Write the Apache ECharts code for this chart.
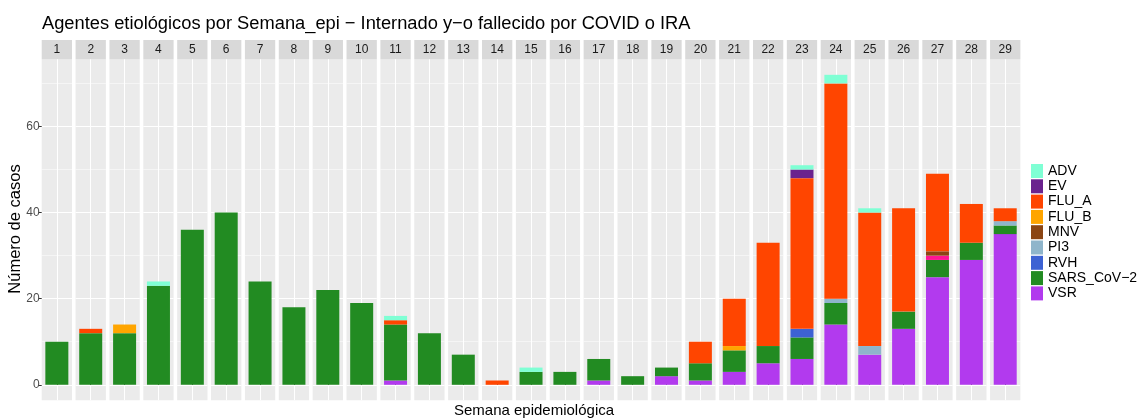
<!DOCTYPE html>
<html>
<head>
<meta charset="utf-8">
<script src="https://cdn.jsdelivr.net/npm/echarts@6/dist/echarts.min.js"></script>
<style>
  html, body { margin: 0; padding: 0; background: #fff; }
  #main { width: 1141px; height: 418px; }
</style>
</head>
<body>
<div id="main"></div>
<script>
"use strict";

// semanas epidemiológicas (una faceta por semana)
var weeks = [1, 2, 3, 4, 5, 6, 7, 8, 9, 10, 11, 12, 13, 14, 15, 16, 17, 18, 19, 20, 21, 22, 23, 24, 25, 26, 27, 28, 29];

// casos por agente y semana
var ADV   = [0, 0, 0, 1, 0, 0, 0, 0, 0, 0, 1, 0, 0, 0, 1, 0, 0, 0, 0, 0, 0, 0, 1, 2, 1, 0, 0, 0, 0];
var EV    = [0, 0, 0, 0, 0, 0, 0, 0, 0, 0, 0, 0, 0, 0, 0, 0, 0, 0, 0, 0, 0, 0, 2, 0, 0, 0, 0, 0, 0];
var FLU_A = [0, 1, 0, 0, 0, 0, 0, 0, 0, 0, 1, 0, 0, 1, 0, 0, 0, 0, 0, 5, 11, 24, 35, 50, 31, 24, 18, 9, 3];
var FLU_B = [0, 0, 2, 0, 0, 0, 0, 0, 0, 0, 0, 0, 0, 0, 0, 0, 0, 0, 0, 0, 1, 0, 0, 0, 0, 0, 0, 0, 0];
var MNV   = [0, 0, 0, 0, 0, 0, 0, 0, 0, 0, 0, 0, 0, 0, 0, 0, 0, 0, 0, 0, 0, 0, 0, 0, 0, 0, 1, 0, 0];
var OTROS = [0, 0, 0, 0, 0, 0, 0, 0, 0, 0, 0, 0, 0, 0, 0, 0, 0, 0, 0, 0, 0, 0, 0, 0, 0, 0, 1, 0, 0];
var PI3   = [0, 0, 0, 0, 0, 0, 0, 0, 0, 0, 0, 0, 0, 0, 0, 0, 0, 0, 0, 0, 0, 0, 0, 1, 2, 0, 0, 0, 1];
var RVH   = [0, 0, 0, 0, 0, 0, 0, 0, 0, 0, 0, 0, 0, 0, 0, 0, 0, 0, 0, 0, 0, 0, 2, 0, 0, 0, 0, 0, 0];
var SARS  = [10, 12, 12, 23, 36, 40, 24, 18, 22, 19, 13, 12, 7, 0, 3, 3, 5, 2, 2, 4, 5, 4, 5, 5, 0, 4, 4, 4, 2];
var VSR   = [0, 0, 0, 0, 0, 0, 0, 0, 0, 0, 1, 0, 0, 0, 0, 0, 1, 0, 2, 1, 3, 5, 6, 14, 7, 13, 25, 29, 35];

var yTicks = [0, 20, 40, 60];
var yMinorTicks = [10, 30, 50, 70];

var legendNames = ['ADV', 'EV', 'FLU_A', 'FLU_B', 'MNV', 'PI3', 'RVH', 'SARS_CoV\u22122', 'VSR'];

var colors = {
    'ADV': '#7FFFD4',
    'EV': '#6A238E',
    'FLU_A': '#FF4500',
    'FLU_B': '#FFA500',
    'MNV': '#8B4513',
    'Otros': '#FF1493',
    'PI3': '#8FB5CB',
    'RVH': '#3D62D3',
    'SARS_CoV\u22122': '#228B22',
    'VSR': '#B23AEE'
};

// orden de apilado, de abajo hacia arriba
var stackOrder = [
    ['VSR', VSR],
    ['SARS_CoV\u22122', SARS],
    ['RVH', RVH],
    ['PI3', PI3],
    ['Otros', OTROS],
    ['MNV', MNV],
    ['FLU_B', FLU_B],
    ['FLU_A', FLU_A],
    ['EV', EV],
    ['ADV', ADV]
];

// geometría de las facetas
var panelLeft = 41.7, panelPitch = 33.87, panelWidth = 30.3;
var panelTop = 59.3, panelHeight = 341, stripTop = 40;
var yMin = -3.6, yMax = 75.6;

var grids = [], xAxes = [], yAxes = [], series = [], graphics = [];

weeks.forEach(function (w, i) {
    var left = panelLeft + i * panelPitch;
    grids.push({
        left: left, top: panelTop, width: panelWidth, height: panelHeight,
        show: true, backgroundColor: '#EBEBEB', borderWidth: 0,
        containLabel: false, outerBoundsMode: 'none'
    });

    // eje de categoría para las barras
    xAxes.push({
        type: 'category', gridIndex: i, data: [String(w)],
        axisLine: { show: false }, axisTick: { show: false },
        axisLabel: { show: false }, splitLine: { show: false }
    });
    // eje decorativo: línea vertical central y marca inferior
    xAxes.push({
        type: 'value', gridIndex: i, min: 0.4, max: 1.6,
        axisLine: { show: false },
        axisTick: { show: true, customValues: [1], length: 3, lineStyle: { color: '#333', width: 1 } },
        axisLabel: { show: false },
        splitLine: { show: true, lineStyle: { color: '#fff', width: 1 } }
    });

    yAxes.push({
        type: 'value', gridIndex: i, min: yMin, max: yMax,
        axisLine: { show: false },
        axisTick: { show: i === 0, customValues: yTicks, length: 3, lineStyle: { color: '#333', width: 1 } },
        axisLabel: { show: i === 0, customValues: yTicks, color: '#4D4D4D', fontSize: 12, margin: 2 },
        splitLine: { show: true, lineStyle: { color: '#fff', width: 1 } }
    });
    yAxes.push({
        type: 'value', gridIndex: i, min: yMin, max: yMax,
        axisLine: { show: false },
        axisTick: { show: false, customValues: yMinorTicks },
        axisLabel: { show: false },
        splitLine: { show: true, lineStyle: { color: '#fff', width: 0.5 } }
    });

    stackOrder.forEach(function (s) {
        var v = s[1][i];
        series.push({
            type: 'bar',
            name: s[0],
            xAxisIndex: 2 * i,
            yAxisIndex: 2 * i,
            stack: 'sem' + w,
            barWidth: 23,
            data: [v ? v : null],
            itemStyle: { color: colors[s[0]] },
            emphasis: { disabled: true }
        });
    });

    // tira con el número de semana
    graphics.push({
        type: 'rect',
        shape: { x: left, y: stripTop, width: panelWidth, height: panelTop - stripTop },
        style: { fill: '#D9D9D9' },
        silent: true
    });
    graphics.push({
        type: 'text',
        style: {
            text: String(w), x: left + panelWidth / 2, y: (stripTop + panelTop) / 2 + 0.5,
            align: 'center', verticalAlign: 'middle',
            fontSize: 12, fill: '#1A1A1A', fontFamily: 'Liberation Sans'
        },
        silent: true
    });
});

graphics.push({
    type: 'text',
    style: {
        text: 'Semana epidemiológica', x: 534, y: 411,
        align: 'center', verticalAlign: 'middle',
        fontSize: 15, fill: '#000', fontFamily: 'Liberation Sans'
    },
    silent: true
});
graphics.push({
    type: 'text',
    x: 15.5, y: 229, rotation: Math.PI / 2,
    style: {
        text: 'Número de casos', x: 0, y: 0,
        align: 'center', verticalAlign: 'middle',
        fontSize: 16.5, fill: '#000', fontFamily: 'Liberation Sans'
    },
    silent: true
});

var chart = echarts.init(document.getElementById('main'), null, { renderer: 'canvas' });
chart.setOption({
    animation: false,
    textStyle: { fontFamily: 'Liberation Sans' },
    title: {
        text: 'Agentes etiológicos por Semana_epi \u2212 Internado y\u2212o fallecido por COVID o IRA',
        left: 37, top: 10,
        textStyle: { fontSize: 18.3, fontWeight: 'normal', color: '#000' }
    },
    legend: {
        data: legendNames,
        orient: 'vertical',
        left: 1026, top: 159,
        itemWidth: 12, itemHeight: 14, itemGap: 1.3,
        icon: 'rect',
        textStyle: { fontSize: 14, color: '#000', lineHeight: 14 }
    },
    grid: grids,
    xAxis: xAxes,
    yAxis: yAxes,
    series: series,
    graphic: graphics
});
</script>
</body>
</html>
